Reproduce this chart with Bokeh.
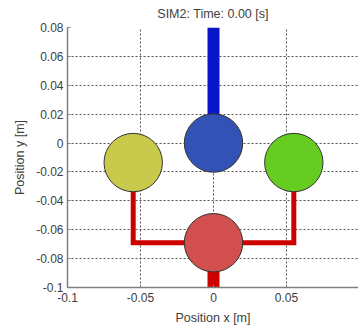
from bokeh.plotting import figure
from bokeh.models import FixedTicker, Range1d
from bokeh.embed import file_html
from bokeh.resources import INLINE

# --- data ---
title_text = "SIM2: Time: 0.00 [s]"
x_ticks = [-0.1, -0.05, 0.0, 0.05, 0.1]
x_tick_labels = ["-0.1", "-0.05", "0", "0.05", "0.1"]
y_ticks = [-0.1, -0.08, -0.06, -0.04, -0.02, 0.0, 0.02, 0.04, 0.06, 0.08]
y_tick_labels = ["-0.1", "-0.08", "-0.06", "-0.04", "-0.02", "0", "0.02", "0.04", "0.06", "0.08"]

mass_x = [0.0, -0.055, 0.055, 0.0]
mass_y = [0.0, -0.0135, -0.0135, -0.069]
mass_r = [0.02, 0.02, 0.02, 0.02]
mass_colors = ["#3352b5", "#c9c94c", "#66cc22", "#d24f4f"]
support_y = 0.08
ground_y = -0.1

FONT = "Liberation Sans"
TXT = "#404040"

p = figure(width=358, height=327,
           x_range=Range1d(-0.1, 0.0993), y_range=Range1d(-0.1, 0.08),
           output_backend="svg", toolbar_location=None,
           min_border_left=67, min_border_right=0, min_border_top=27, min_border_bottom=39,
           title=title_text)
p.background_fill_color = "white"
p.border_fill_color = "white"
p.outline_line_color = None

p.title.align = "center"
p.title.vertical_align = "top"
p.title.text_font = FONT
p.title.text_font_style = "normal"
p.title.text_font_size = "12.5px"
p.title.text_color = TXT
p.title.standoff = 10

xt = FixedTicker(ticks=x_ticks)
yt = FixedTicker(ticks=y_ticks)
p.xaxis.ticker = xt
p.yaxis.ticker = yt
p.xgrid.ticker = xt
p.ygrid.ticker = yt
p.xaxis.major_label_overrides = {t: l for t, l in zip(x_ticks, x_tick_labels)}
p.yaxis.major_label_overrides = {t: l for t, l in zip(y_ticks, y_tick_labels)}

for ax in (p.xaxis, p.yaxis):
    ax.axis_line_color = "#808080"
    ax.axis_line_width = 1.5
    ax.major_tick_in = 3
    ax.major_tick_out = 0
    ax.major_tick_line_color = "#808080"
    ax.minor_tick_line_color = None
    ax.major_label_text_font = FONT
    ax.major_label_text_font_size = "12px"
    ax.major_label_text_color = TXT
    ax.axis_label_text_font = FONT
    ax.axis_label_text_font_size = "12.5px"
    ax.axis_label_text_font_style = "normal"
    ax.axis_label_text_color = TXT

p.xaxis.axis_label = "Position x [m]"
p.yaxis.axis_label = "Position y [m]"
p.xaxis.major_label_standoff = 5
p.xaxis.axis_label_standoff = 6
p.yaxis.major_label_standoff = 4
p.yaxis.axis_label_standoff = 6

for g in (p.xgrid, p.ygrid):
    g.grid_line_color = "#444444"
    g.grid_line_dash = "2 2"
    g.grid_line_width = 1
    g.grid_line_alpha = 0.9

# rods
p.segment(x0=[mass_x[0]], y0=[support_y], x1=[mass_x[0]], y1=[mass_y[0]],
          line_color="#0a14c8", line_width=12, line_cap="butt")
p.line([mass_x[1], mass_x[1], mass_x[2], mass_x[2]],
       [mass_y[1], mass_y[3], mass_y[3], mass_y[2]],
       line_color="#cc0000", line_width=5, line_join="miter")
p.segment(x0=[mass_x[3]], y0=[mass_y[3]], x1=[mass_x[3]], y1=[ground_y],
          line_color="#cc0000", line_width=12, line_cap="butt")

# masses
p.circle(x=mass_x, y=mass_y, radius=mass_r, fill_color=mass_colors,
         line_color="#333333", line_width=1)

open("out.html", "w").write(file_html(p, INLINE))
